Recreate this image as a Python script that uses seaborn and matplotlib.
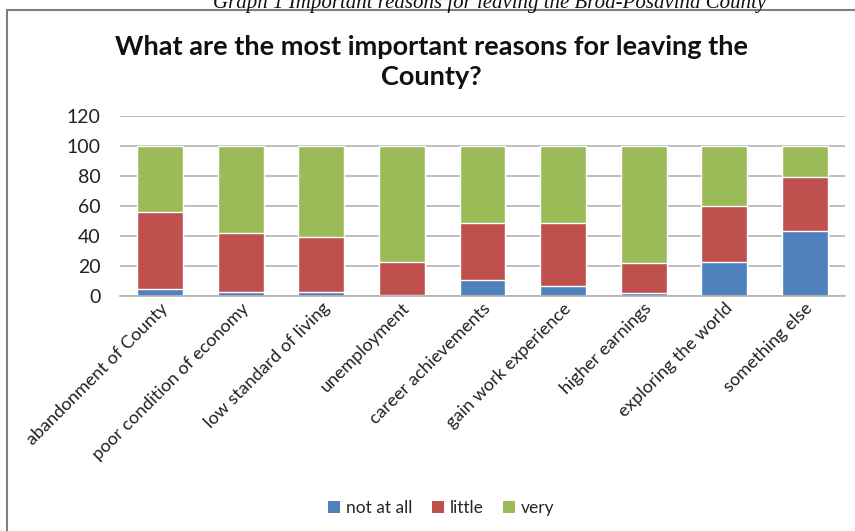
import matplotlib
matplotlib.use("Agg")
import matplotlib.pyplot as plt
import seaborn as sns
import pandas as pd
from matplotlib.lines import Line2D
from matplotlib.patches import Patch

categories = ["abandonment of County", "poor condition of economy", "low standard of living",
              "unemployment", "career achievements", "gain work experience",
              "higher earnings", "exploring the world", "something else"]
not_at_all = [5, 3, 3, 1, 11, 6.5, 2, 22.5, 43.5]
little = [51, 39, 36.5, 22, 38, 42.5, 20, 37.5, 36]
very = [44, 58, 60.5, 77, 51, 51, 78, 40, 20.5]
series_names = ["not at all", "little", "very"]
colors = ["#4F81BD", "#C0504D", "#9BBB59"]

df = pd.DataFrame({"category": categories, "not at all": not_at_all,
                   "little": little, "very": very})
# cumulative tops for stacking
df["c1"] = df["not at all"]
df["c2"] = df["c1"] + df["little"]
df["c3"] = df["c2"] + df["very"]

sns.set_style("white")
plt.rcParams['font.family'] = ['Lato', 'DejaVu Sans']

fig = plt.figure(figsize=(8.55, 5.31), dpi=100)
ax = fig.add_axes([120 / 855, 1 - 296 / 531, 725 / 855, 180 / 531])

for col, color in zip(["c3", "c2", "c1"], colors[::-1]):
    sns.barplot(data=df, x="category", y=col, color=color, width=0.57,
                saturation=1, ax=ax, order=categories)

ax.set_ylim(0, 120)
ax.set_xlim(-0.5, 8.5)
ax.set_yticks(range(0, 121, 20))
ax.yaxis.grid(True, color="#B3B3B3", linewidth=1.2)
ax.set_axisbelow(True)
for s in ["top", "right", "left"]:
    ax.spines[s].set_visible(False)
ax.spines["bottom"].set_color("#B3B3B3")
ax.spines["bottom"].set_linewidth(1.2)
ax.set_xlabel("")
ax.set_ylabel("")
ax.tick_params(axis="y", labelsize=14, pad=14, length=0, colors="#222222")
ax.tick_params(axis="x", labelsize=13, length=0, pad=3, colors="#222222")
ax.set_xticks(range(len(categories)))
ax.set_xticklabels(categories, rotation=45, ha="right", rotation_mode="anchor")

fig.text(0.505, 0.884, "What are the most important reasons for leaving the\nCounty?",
         ha="center", va="center", fontsize=19.5, fontweight="bold",
         linespacing=1.3, color="#111111")

fig.text(0.573, 0.995, "Graph 1 Important reasons for leaving the Brod-Posavina County",
         ha="center", va="center", fontsize=15, style="italic",
         family="Liberation Serif", color="#111111")

handles = [Patch(facecolor=c, edgecolor="none") for c in colors]
fig.legend(handles, series_names, loc="center", bbox_to_anchor=(0.516, 0.043),
           ncol=3, frameon=False, fontsize=12.5, handlelength=0.7, handleheight=0.7,
           handletextpad=0.35, columnspacing=1.1)

# outer chart frame
fig.add_artist(Line2D([7 / 855, 1.0], [1 - 10 / 531, 1 - 10 / 531],
                      transform=fig.transFigure, color="#7F7F7F", linewidth=1.5))
fig.add_artist(Line2D([7 / 855, 7 / 855], [0, 1 - 10 / 531],
                      transform=fig.transFigure, color="#7F7F7F", linewidth=1.5))

fig.savefig("out.png", dpi=100)
